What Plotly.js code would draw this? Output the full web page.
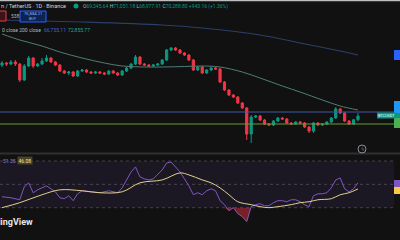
<!DOCTYPE html>
<html><head><meta charset="utf-8">
<script src="https://cdn.plot.ly/plotly-3.0.1.min.js"></script>
<style>html,body{margin:0;padding:0;background:#111111;overflow:hidden}#c{width:400px;height:240px}</style>
</head><body><div id="c"></div>
<script>
// ---- data (BTC / TetherUS, 1D) ----
const openP = [83050,83550,83300,83800,83300,79300,82800,84800,82800,83300,84050,84800,83800,83050,81550,81050,81300,80300,81550,81800,81300,81050,81300,81050,80800,81550,81050,80550,81550,82300,83300,85050,83300,83050,82800,83050,83300,84300,86800,87300,86800,86050,85550,84300,81800,82550,81050,81800,82300,82050,78800,76800,75550,75050,73550,72300,65800,70050,70300,69300,68300,68050,69050,69800,69550,68550,68300,68800,68550,67550,66550,68550,68050,68300,68800,69800,72050,71050,69050,68300,69345.64];
const closeP = [83550,83300,83800,83300,79300,82800,84800,82800,83300,84050,84800,83800,83050,81550,81050,81300,80300,81550,81800,81300,81050,81300,81050,80800,81550,81050,80550,81550,82300,83300,85050,83300,83050,82800,83050,83300,84300,86800,87300,86800,86050,85550,84300,81800,82550,81050,81800,82300,82050,78800,76800,75550,75050,73550,72300,65800,70050,70300,69300,68300,68050,69050,69800,69550,68550,68300,68800,68550,67550,66550,68550,68050,68300,68800,69800,72050,71050,69050,68300,69345.64,70288.80];
const highP = [84050,83800,84300,84300,83550,83300,85300,85050,83550,84800,85550,85050,84050,83300,81800,81550,81550,81800,82050,82050,81550,81550,81550,81300,81800,81800,81300,81800,82550,83550,85550,85300,83550,83300,83300,83550,84550,87050,87550,87550,87050,86300,85800,84550,82800,82800,82050,82550,82550,82300,79050,77050,75800,75300,73800,72550,70550,70550,70550,69550,68550,69300,70050,70050,69800,68800,69050,69050,68800,67800,68800,68800,68550,69050,70050,72550,72300,71300,69300,69550,71051.18];
const lowP = [82550,82800,83050,82800,78800,79050,82550,82300,82550,83050,83800,83550,82800,81300,80800,80550,80050,80050,81300,81050,80800,80800,80800,80550,80550,80800,80300,80300,81300,82050,83050,83050,82800,82550,82550,82800,83050,84050,86550,86550,85800,85300,84050,81550,81550,80800,80800,81550,81800,78550,76550,75300,74800,73300,72050,64300,63550,69800,69050,68050,67800,67800,68800,69300,68300,68050,68050,68300,67300,66050,66050,67800,67800,68050,68550,69550,70800,68800,68050,68050,68977.91];
const candleIdx = openP.map((_, i) => i);

const maFastIdx = [0,4,9,13,18,23,27,32,36,41,45,49,54,58,63,67,72,76,80];
const maFastVal = [90800,89300,87800,86300,84800,83550,82800,82550,82550,82675,82800,82550,81300,79800,77800,76300,74300,72800,71800];
const maSlowIdx = [0,18,36,45,58,67,76,80];
const maSlowVal = [94300,93800,93050,92300,90550,88550,86550,85550];

const levelPrices = [71300, 68300];

const rsiIdx = [0,2,4,5,6,7,8,10,11,12,13,14,15,16,17,18,20,22,24,26,27,28,29,30,31,32,33,34,35,36,37,38,39,40,41,42,43,44,45,46,47,48,49,50,51,52,53,54,55,56,57,58,59,60,61,62,63,64,65,66,67,68,69,70,71,72,73,74,75,76,77,78,79,80];
const rsiVal = [39.4,38.5,36.8,47.9,51.3,42.8,45.3,48.7,46.2,43.6,38.5,37.7,40.2,36.0,41.9,44.5,43.6,42.8,44.5,42.8,47.0,53.8,60.6,64.9,56.4,54.7,53.8,54.7,58.1,62.3,68.3,69.1,64.9,60.6,54.7,48.7,41.1,42.8,41.1,44.5,46.2,44.5,36.0,32.6,27.4,30.0,24.9,22.3,18.1,30.9,32.6,33.4,31.7,31.7,34.3,36.0,36.0,35.1,36.8,36.8,35.1,32.6,30.9,40.2,41.9,41.9,42.8,47.0,53.8,55.5,46.2,43.6,46.2,51.35];
const rsiMaIdx = [0,4,9,13,18,22,27,31,36,40,42,45,47,49,51,53,56,58,60,62,65,67,69,71,74,76,78,80];
const rsiMaVal = [30.0,34.3,41.1,45.3,44.5,42.8,43.6,51.3,53.8,59.8,58.1,53.8,51.3,47.0,41.1,35.1,32.6,30.9,30.0,30.9,32.6,34.3,35.1,36.8,37.7,41.1,42.8,46.08];
const rsiLevels = [70, 50, 30];

// ---- helpers for layout placement (pixels -> paper) ----
const W = 400, H = 240;
const px = x => x / W, py = y => 1 - y / H;

const traces = [
  {type:'candlestick', x:candleIdx, open:openP, high:highP, low:lowP, close:closeP,
   increasing:{line:{color:'#089981', width:1}, fillcolor:'#089981'},
   decreasing:{line:{color:'#f23645', width:1}, fillcolor:'#f23645'},
   whiskerwidth:0, hoverinfo:'skip', xaxis:'x', yaxis:'y'},
  {type:'scatter', mode:'lines', x:maFastIdx, y:maFastVal, line:{color:'#4f7d76', width:1, shape:'spline'}, hoverinfo:'skip', xaxis:'x', yaxis:'y'},
  {type:'scatter', mode:'lines', x:maSlowIdx, y:maSlowVal, line:{color:'#2c3f68', width:1.2, shape:'spline'}, hoverinfo:'skip', xaxis:'x', yaxis:'y'},
  // oversold fill
  {type:'scatter', mode:'lines', x:rsiIdx, y:rsiIdx.map(() => 30), line:{width:0, color:'rgba(0,0,0,0)'}, hoverinfo:'skip', xaxis:'x', yaxis:'y2'},
  {type:'scatter', mode:'lines', x:rsiIdx, y:rsiVal.map(v => Math.min(v, 30)), line:{width:0, color:'rgba(0,0,0,0)'}, fill:'tonexty', fillcolor:'rgba(242,54,69,0.45)', hoverinfo:'skip', xaxis:'x', yaxis:'y2'},
  {type:'scatter', mode:'lines', x:rsiIdx, y:rsiVal, line:{color:'#7e57c2', width:1}, hoverinfo:'skip', xaxis:'x', yaxis:'y2'},
  {type:'scatter', mode:'lines', x:rsiMaIdx, y:rsiMaVal, line:{color:'#e3cf8f', width:1, shape:'spline'}, hoverinfo:'skip', xaxis:'x', yaxis:'y2'}
];

const shapes = [
  {type:'rect', xref:'paper', yref:'y2', x0:0, x1:px(394), y0:30, y1:70, fillcolor:'rgba(126,87,194,0.1)', line:{width:0}, layer:'below'},
  ...rsiLevels.map(v => ({type:'line', xref:'paper', yref:'y2', x0:0, x1:px(394), y0:v, y1:v, line:{color:'rgba(120,123,134,0.45)', width:1, dash:'dot'}, layer:'below'})),
  {type:'line', xref:'paper', yref:'y', x0:0, x1:px(394), y0:levelPrices[0], y1:levelPrices[0], line:{color:'#4058a8', width:1}},
  {type:'line', xref:'paper', yref:'y', x0:0, x1:px(394), y0:levelPrices[1], y1:levelPrices[1], line:{color:'#6a9a3a', width:1}},
  // pane separator and top strip
  {type:'rect', xref:'paper', yref:'paper', x0:0, x1:1, y0:py(154.5), y1:py(152.5), fillcolor:'#303030', line:{width:0}},
  {type:'rect', xref:'paper', yref:'paper', x0:0, x1:1, y0:py(1.3), y1:py(0), fillcolor:'#bdbdbd', line:{width:0}},
  // right price-scale labels (cut off)
  {type:'rect', xref:'paper', yref:'paper', x0:px(394), x1:1, y0:py(60), y1:py(50), fillcolor:'#2962ff', line:{width:0}},
  {type:'rect', xref:'paper', yref:'paper', x0:px(394), x1:1, y0:py(113), y1:py(101), fillcolor:'#2196f3', line:{width:0}},
  {type:'rect', xref:'paper', yref:'paper', x0:px(394), x1:1, y0:py(118), y1:py(113), fillcolor:'#089981', line:{width:0}},
  {type:'rect', xref:'paper', yref:'paper', x0:px(394), x1:1, y0:py(128), y1:py(118), fillcolor:'#4caf50', line:{width:0}},
  {type:'rect', xref:'paper', yref:'paper', x0:px(394), x1:1, y0:py(187), y1:py(180), fillcolor:'#7e57c2', line:{width:0}},
  {type:'rect', xref:'paper', yref:'paper', x0:px(394), x1:1, y0:py(194), y1:py(187), fillcolor:'#f7c948', line:{width:0}},
  // last-price tag
  {type:'rect', xref:'paper', yref:'paper', x0:px(377), x1:px(396), y0:py(118.5), y1:py(112.5), fillcolor:'#089981', line:{width:0}},
  // header widgets
  {type:'circle', xref:'paper', yref:'paper', x0:px(73.5), x1:px(78.5), y0:py(8.5), y1:py(3.5), fillcolor:'#089981', line:{width:0}},
  {type:'rect', xref:'paper', yref:'paper', x0:px(-3), x1:px(6), y0:py(21), y1:py(11), fillcolor:'#3a1418', line:{color:'#f23645', width:1}},
  {type:'rect', xref:'paper', yref:'paper', x0:px(20), x1:px(46), y0:py(22), y1:py(11), fillcolor:'#0d2352', line:{color:'#2962ff', width:1}},
  // event marker
  {type:'circle', xref:'paper', yref:'paper', x0:px(358), x1:px(366), y0:py(153), y1:py(145), fillcolor:'rgba(0,0,0,0)', line:{color:'#8a8d96', width:1}}
];

const f = (s, c) => ({family:'Roboto, "DejaVu Sans", sans-serif', size:s, color:c});
const ann = (x, y, text, size, color, xanchor, extra) => Object.assign({xref:'paper', yref:'paper', x:px(x), y:py(y), text, showarrow:false, xanchor:xanchor||'left', yanchor:'middle', font:f(size, color)}, extra||{});
const G = '#089981', GR = '#b2b5be';
const ohlc = `<span style="color:${GR}">O</span>69,345.64 <span style="color:${GR}">H</span>71,051.18 <span style="color:${GR}">L</span>68,977.91 <span style="color:${GR}">C</span>70,288.80 +943.16 (+1.36%)`;

const annotations = [
  ann(-1, 6, 'n / TetherUS · 1D · Binance', 5.5, '#d1d4dc'),
  ann(81, 6, ohlc, 5, G),
  ann(8.5, 16, '538', 5, GR),
  ann(33, 13.8, '76,884.21', 4.2, '#8fb0ff', 'center'),
  ann(33, 19, 'BUY', 3.8, '#8fb0ff', 'center'),
  ann(0, 30, '0 close 200 close', 5, GR),
  ann(42, 30, '66,755.11', 5, '#3f66d6'),
  ann(66, 30, '72,855.77', 5, '#26a69a'),
  ann(386.5, 115.5, 'BTCUSDT', 3.8, '#ffffff', 'center'),
  ann(362, 149, 'ϟ', 5, '#8a8d96', 'center'),
  ann(1, 160.5, '51.35', 5, '#8c7fd0', 'left'),
  ann(17, 160.5, '46.08', 5, '#efe2a8', 'left', {bgcolor:'#4a4322', borderpad:0.5}),
  ann(35, 222, '<b>TradingView</b>', 9, '#e6e6e6', 'right')
];

const layout = {
  width:W, height:H, margin:{l:0, r:0, t:0, b:0},
  paper_bgcolor:'#111111', plot_bgcolor:'#111111', showlegend:false,
  xaxis:{range:[-0.449, 89.44], visible:false, rangeslider:{visible:false}, fixedrange:true},
  yaxis:{domain:[0.36667, 1], range:[61300, 99300], visible:false, fixedrange:true},
  yaxis2:{domain:[0, 0.35417], range:[2.33, 75.14], visible:false, fixedrange:true},
  shapes, annotations
};
Plotly.newPlot('c', traces, layout, {staticPlot:true, displayModeBar:false});
</script></body></html>
